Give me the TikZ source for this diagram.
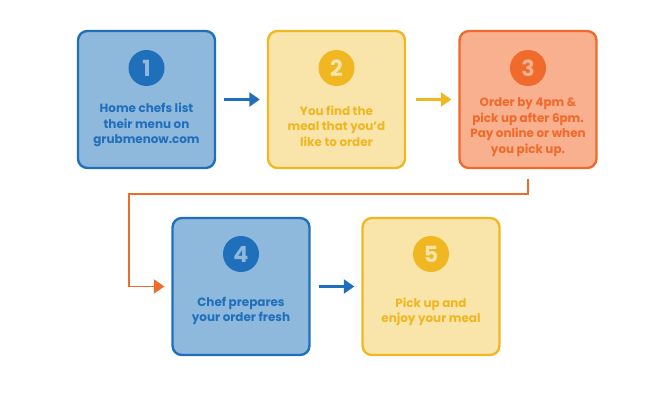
\documentclass[tikz,border=0pt]{standalone}
\usepackage{fontspec}
\setmainfont{Poppins}
\usetikzlibrary{arrows.meta}
\definecolor{bluefill}{HTML}{8FB8DD}
\definecolor{blueline}{HTML}{1F6FBA}
\definecolor{yelfill}{HTML}{F9E4AA}
\definecolor{yelline}{HTML}{F0B722}
\definecolor{orfill}{HTML}{F8B08F}
\definecolor{orline}{HTML}{F06A2B}
\tikzset{
  box/.style={rounded corners=8pt, line width=2pt, minimum width=137\pxu, minimum height=137\pxu, inner sep=0pt},
  num/.style={circle, minimum size=36\pxu, inner sep=0pt, font=\fontsize{19}{19}\selectfont\bfseries},
  txt/.style={align=center, font=\fontsize{10.2}{13.2}\selectfont\bfseries},
  link/.style={line width=2.1pt, -{Triangle[length=9pt,width=12pt]}},
}
\newlength{\pxu}
\setlength{\pxu}{0.03cm}
\begin{document}
\begin{tikzpicture}[x=0.03cm, y=-0.03cm]
\useasboundingbox (0,0) rectangle (657,403);

\node[box, draw=blueline, fill=bluefill] (b1) at (146.5, 99.5) {};
\node[box, draw=yelline, fill=yelfill] (b2) at (336.5, 99.5) {};
\node[box, draw=orline, fill=orfill] (b3) at (528, 99.5) {};
\node[box, draw=blueline, fill=bluefill] (b4) at (241, 286.5) {};
\node[box, draw=yelline, fill=yelfill] (b5) at (431, 286.5) {};

\node[num, fill=blueline, text=bluefill] (n1) at (146.5, 68) {1};
\node[num, fill=yelline, text=yelfill] (n2) at (336.5, 68) {2};
\node[num, fill=orline, text=orfill] (n3) at (528, 68) {3};
\node[num, fill=blueline, text=bluefill] (n4) at (241, 254) {4};
\node[num, fill=yelline, text=yelfill] (n5) at (431, 254) {5};

\node[txt, text=blueline] (t1) at (146.5, 125) {Home chefs list\\their menu on\\grubmenow.com};
\node[txt, text=yelline] (t2) at (336.5, 126) {You find the\\meal that you'd\\like to order};
\node[txt, text=orline] (t3) at (528, 127) {Order by 4pm \&\\pick up after 6pm.\\Pay online or when\\you pick up.};
\node[txt, text=blueline] (t4) at (241, 311) {Chef prepares\\your order fresh};
\node[txt, text=yelline] (t5) at (431, 312) {Pick up and\\enjoy your meal};

\coordinate (bend) at (129, 194);

\draw[link, blueline, shorten <=8\pxu, shorten >=7\pxu] (b1) -- (b2);
\draw[link, yelline, shorten <=10\pxu, shorten >=7\pxu] (b2) -- (b3);
\draw[link, orline, line width=1.7pt, shorten <=10\pxu, shorten >=7\pxu] (b3.south) |- (bend) |- (b4.west);
\draw[link, blueline, shorten <=8\pxu, shorten >=7\pxu] (b4) -- (b5);
\end{tikzpicture}
\end{document}
